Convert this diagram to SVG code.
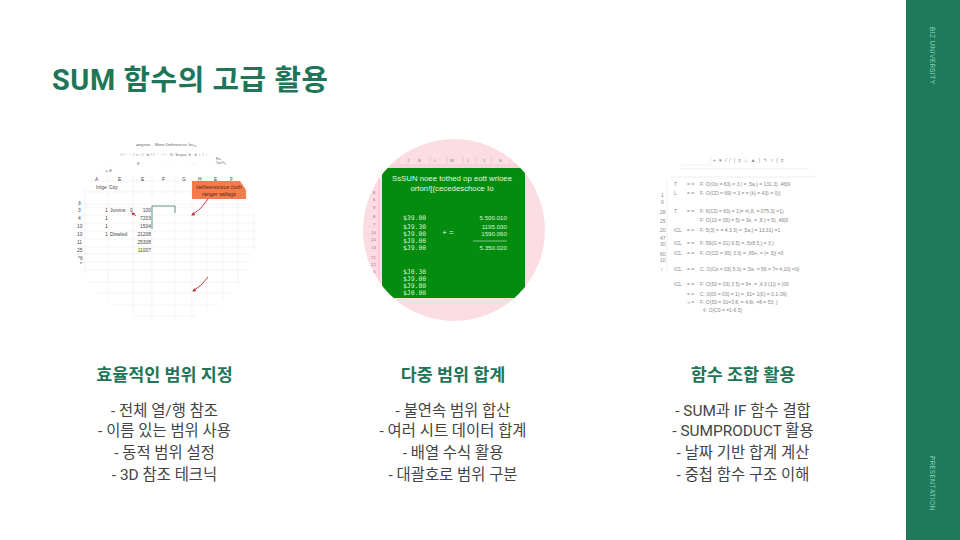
<svg xmlns="http://www.w3.org/2000/svg" width="960" height="540" viewBox="0 0 960 540">
<style>
.kr{font-family:Roboto,"Noto Sans CJK KR",sans-serif}
.h{font-size:17.4px;font-weight:600;fill:#1e7557;text-anchor:middle}
.b{font-size:15.4px;fill:#444;text-anchor:middle}
.side{font-family:Inter,"Liberation Sans",sans-serif;font-size:6.8px;fill:#8fd0b4;letter-spacing:.35px}
.g{stroke:#ececec;stroke-width:.6;fill:none}
.s{font-family:"Liberation Sans",sans-serif;font-size:4.2px;fill:#666}
.xl{font-family:"Liberation Sans",sans-serif;font-size:4.9px;fill:#444}
.cl{font-family:"Liberation Sans",sans-serif;font-size:5.4px;fill:#5a2a18;text-anchor:middle}
.f{font-family:"Liberation Sans",sans-serif;font-size:5px;fill:#888}
.w{font-family:"Liberation Sans",sans-serif;font-size:7.8px;fill:#e4f5e4;text-anchor:middle}
.m{font-family:"DejaVu Sans Mono",monospace;font-size:6.4px;fill:#d8f2d8}
.n{font-family:"Liberation Sans",sans-serif;font-size:6.2px;fill:#d8f2d8;text-anchor:end}
.p{font-family:"Liberation Sans",sans-serif;font-size:4.4px;fill:#8f7780}
.arrow{stroke:#c0282d;stroke-width:.9;fill:none;marker-end:url(#ah)}
</style>
<defs>
<marker id="ah" markerWidth="5" markerHeight="5" refX="3" refY="2" orient="auto"><path d="M0 0L4 2L0 4Z" fill="#c0282d"/></marker>
<clipPath id="c1"><circle cx="165" cy="231" r="91"/></clipPath>
<clipPath id="c2"><circle cx="454" cy="230" r="91"/></clipPath>
<clipPath id="c3"><circle cx="743" cy="231" r="91"/></clipPath>
</defs>
<rect width="960" height="540" fill="#fff"/>
<rect id="sidebar" x="906" width="54" height="540" fill="#1e7a5a"/>
<text class="side" transform="translate(930,27) rotate(90)">BIZ UNIVERSITY</text>
<text class="side" transform="translate(930,456) rotate(90)">PRESENTATION</text>
<text id="title" class="kr" x="52" y="90" font-size="28.8" font-weight="700" fill="#1e7557" letter-spacing=".6">SUM 함수의 고급 활용</text>

<g id="img1" clip-path="url(#c1)">
<path class="g" d="M70 181H270M70 192H270M70 204H270M70 207H270M70 215H270M70 223H270M70 231H270M70 239H270M70 247H270M70 254H270M70 262H270M70 270H270M70 282H270M70 293H270M70 305H270M70 316H270"/>
<path class="g" d="M85 175V320M108 175V320M133 175V320M152 175V320M175 175V320M192 175V320M207 175V320M223 175V320M238 175V320M254 175V320"/>
<text class="s" x="136" y="146">Angrow</text><text class="s" x="155" y="146">More Deferences Selg</text>
<text class="s" x="121" y="156" style="letter-spacing:.45px">⁄ ⁄ · · ⁄ ▿ ⁄ ⁄ ∗ ⁄ ⁄ · · ⁄ · % Sopa  ∗ ∗ ↑ ⁄ ↑ ·</text>
<text class="s" x="216" y="160" style="font-size:3px">Rov.</text><text class="s" x="216" y="164" style="font-size:3px">Tool Fig</text>
<text class="s" x="106" y="165">·</text><text class="s" x="137" y="165">8 ·</text><text class="s" x="165" y="165">· ·</text><text class="s" x="190" y="165">· · ·</text><text class="s" x="210" y="165">·</text>
<text class="s" x="103" y="172">· = E</text>
<text class="xl" x="95" y="181">A</text><text class="xl" x="118" y="181">E</text><text class="xl" x="141" y="181">E</text><text class="xl" x="162" y="181">F</text><text class="xl" x="182" y="181">G</text><text class="xl" x="198" y="181">H</text><text class="xl" x="214" y="181">E</text><text class="xl" x="230" y="181">F</text>
<text class="xl" x="96" y="189">Inlge</text><text class="xl" x="109" y="189">Coy</text>
<text class="xl" x="78" y="205">8</text><text class="xl" x="78" y="212">3</text><text class="xl" x="78" y="220">4</text><text class="xl" x="77" y="228">10</text><text class="xl" x="77" y="236">10</text><text class="xl" x="77" y="244">11</text><text class="xl" x="77" y="252">25</text><text class="xl" x="78" y="260">*6</text><text class="xl" x="80" y="266">*</text>
<text class="xl" x="105" y="212">1</text><text class="xl" x="105" y="220">1</text><text class="xl" x="105" y="228">1</text><text class="xl" x="105" y="236">1</text>
<text class="xl" x="110" y="212">Jumins</text><text class="xl" x="110" y="236">Diswled</text><text class="xl" x="130" y="212">0</text>
<text class="xl" x="151" y="212" text-anchor="end">100</text><text class="xl" x="151" y="220" text-anchor="end">7203</text><text class="xl" x="151" y="228" text-anchor="end">1504</text><text class="xl" x="151" y="236" text-anchor="end">21208</text><text class="xl" x="151" y="244" text-anchor="end">25308</text><text class="xl" x="151" y="252" text-anchor="end">11007</text>
<path d="M152 229V206H175V213" fill="none" stroke="#3f7d63" stroke-width=".8"/>
<path d="M192 181H240L246 190V199H192Z" fill="#f47b4b"/>
<text class="cl" x="219" y="189">Hefleenonsce (roth</text>
<text class="cl" x="219" y="196">ranger sallags</text>
<path class="arrow" d="M208 199Q202 209 192 215"/>
<path class="arrow" d="M136 216L132 213"/>
<path class="arrow" d="M208 277Q202 286 193 291"/>
</g>

<g id="img2">
<circle cx="454" cy="230" r="91" fill="#fddde4"/>
<g clip-path="url(#c2)">
<path d="M363 165H540M363 167H540M398 157V165M420 157V165M430 157V165M447 157V165M463 157V165M476 157V165M491 157V165M510 157V165M379 168V290" stroke="#e8bcc8" stroke-width=".6" fill="none"/>
<path d="M363 195H382M363 202H382M363 210H382M363 219H382M363 227H382M363 235H382M363 242H382M363 250H382M363 260H382M363 267H382M363 274H382" stroke="#f0c8d2" stroke-width=".5" fill="none"/>
<text class="p" x="407" y="162">J</text><text class="p" x="418" y="162">8</text><text class="p" x="434" y="162">L</text><text class="p" x="450" y="162">W</text><text class="p" x="467" y="162">L</text><text class="p" x="483" y="162">J</text><text class="p" x="499" y="162">S</text>
<text class="p" x="373" y="194">8</text><text class="p" x="373" y="201">6</text><text class="p" x="373" y="209">9</text><text class="p" x="373" y="218">8</text><text class="p" x="373" y="226">7</text><text class="p" x="371" y="234">16</text><text class="p" x="371" y="241">10</text><text class="p" x="371" y="249">13</text><text class="p" x="371" y="259">71</text><text class="p" x="371" y="266">12</text><text class="p" x="373" y="273">4</text>
<path d="M386 168H521L525 172V294L521 298H386L382 294V172Z" fill="#048c0e"/>
<text class="w" x="452" y="181">SsSUN noee tothed op eott wrloee</text>
<text class="w" x="452" y="190.500">orton![(cecedeschoce Io</text>
<text class="m" x="403" y="219.500">$39.00</text><text class="m" x="403" y="228.500">$J9.30</text><text class="m" x="403" y="235.500">$J9.00</text><text class="m" x="403" y="242.500">$J9.00</text><text class="m" x="403" y="249.500">$J9.00</text>
<text class="m" x="403" y="274">$J0.30</text><text class="m" x="403" y="281">$J9.00</text><text class="m" x="403" y="288">$J9.80</text><text class="m" x="403" y="295">$J0.00</text>
<text class="w" x="448" y="235">+ =</text>
<text class="n" x="507" y="219.500">5.500.010</text><text class="n" x="507" y="228.500">1195.030</text><text class="n" x="507" y="235.500">1590.060</text><text class="n" x="507" y="249.500">5.350.020</text>
<path d="M473 241H507" stroke="#d8f2d8" stroke-width=".6"/>
</g></g>

<g id="img3" clip-path="url(#c3)">
<path d="M680 165H711V155M680 169H810M670 177H818M667 180V272" stroke="#e4e4e4" stroke-width=".6" fill="none"/>
<text class="f" x="708" y="162" style="letter-spacing:.9px">· + ▾ / ⁄ | ≡ ⌂ ▲ | ↰ ≈ | ±</text>
<text class="f" x="661" y="197">1</text><text class="f" x="661" y="204">6</text><text class="f" x="660" y="214">28</text><text class="f" x="660" y="223">25</text><text class="f" x="660" y="232">20</text><text class="f" x="660" y="240">47</text><text class="f" x="660" y="246">30</text><text class="f" x="660" y="256">60</text><text class="f" x="660" y="262">10</text><text class="f" x="661" y="272">!</text>
<text class="f" x="674" y="186">T</text><text class="f" x="687" y="186">= =</text><text class="f" x="700" y="186">F: O(Oo = 63) = 3 | = ,5a.) = 131.3) ,46|9</text>
<text class="f" x="674" y="195">L</text><text class="f" x="687" y="195">= =</text><text class="f" x="700" y="195">F: O(CD = 69) = 3,= = (k) = 43) = 0))</text>
<text class="f" x="674" y="213">T</text><text class="f" x="687" y="213">= =</text><text class="f" x="700" y="213">F: 6(CD = 83) = 1)= =(,8, = 075,3) =1)</text>
<text class="f" x="700" y="222">F: O(10 = 05) = 5) = 3e, = ,8.) = 5) ,46|9</text>
<text class="f" x="674" y="232">ICL</text><text class="f" x="687" y="232">= =</text><text class="f" x="700" y="232">F: 5(3) = = 4.3 3) = ,5a.) = 13.31) =1</text>
<text class="f" x="674" y="245">ICL</text><text class="f" x="687" y="245">= =</text><text class="f" x="700" y="245">F: 59(G = 01) 9.5) = ,5z8.5,) = 3 )</text>
<text class="f" x="674" y="255">ICL</text><text class="f" x="687" y="255">= =</text><text class="f" x="700" y="255">F: O(CD = 95) 3 3) = ,89+, = (= 3)) =3</text>
<text class="f" x="674" y="271">ICL</text><text class="f" x="687" y="271">= =</text><text class="f" x="700" y="271">C: O(Co = 03) 5 3) = ,5e, = 56 = 7= 4,10) =3)</text>
<text class="f" x="674" y="286">ICL</text><text class="f" x="687" y="286">= =</text><text class="f" x="700" y="286">F: O(50 = 03) 3 5) = 9=, = ,4.3 (1)) = (00</text>
<text class="f" x="687" y="296">= =</text><text class="f" x="700" y="296">C: 0(00 = 03) = 1) = ,91= 1(0) = 0.1-39)</text>
<text class="f" x="687" y="304">¬ =</text><text class="f" x="700" y="304">F: O(50 = 01=3 8, = 4.6r, =8 = 53, )</text>
<text class="f" x="703" y="312">¢: O(C0 = =1-6 5)</text>
</g>

<g id="col1">
<text class="h kr" x="164.500" y="381">효율적인 범위 지정</text>
<text class="b kr" x="164.500" y="416">- 전체 열/행 참조</text>
<text class="b kr" x="164.500" y="436">- 이름 있는 범위 사용</text>
<text class="b kr" x="164.500" y="458">- 동적 범위 설정</text>
<text class="b kr" x="164.500" y="480">- 3D 참조 테크닉</text>
</g>
<g id="col2">
<text class="h kr" x="453" y="381">다중 범위 합계</text>
<text class="b kr" x="453" y="416">- 불연속 범위 합산</text>
<text class="b kr" x="453" y="436">- 여러 시트 데이터 합계</text>
<text class="b kr" x="453" y="458">- 배열 수식 활용</text>
<text class="b kr" x="453" y="480">- 대괄호로 범위 구분</text>
</g>
<g id="col3">
<text class="h kr" x="743" y="381">함수 조합 활용</text>
<text class="b kr" x="743" y="416">- SUM과 IF 함수 결합</text>
<text class="b kr" x="743" y="436">- SUMPRODUCT 활용</text>
<text class="b kr" x="743" y="458">- 날짜 기반 합계 계산</text>
<text class="b kr" x="743" y="480">- 중첩 함수 구조 이해</text>
</g>
</svg>
